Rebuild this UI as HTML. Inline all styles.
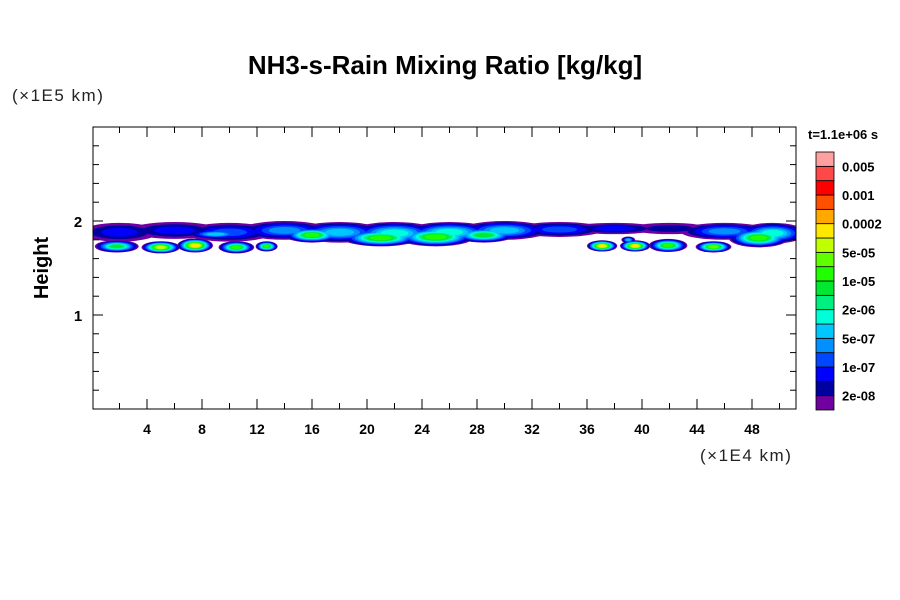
<!DOCTYPE html>
<html><head><meta charset="utf-8"><style>
body{margin:0;background:#fff;}
svg{display:block;font-family:"Liberation Sans",sans-serif;}
</style></head><body>
<svg id="chart" width="900" height="600" viewBox="0 0 900 600">
<rect width="900" height="600" fill="#fff"/>
<text x="445" y="74" font-size="26" font-weight="bold" text-anchor="middle">NH3-s-Rain Mixing Ratio [kg/kg]</text>
<text x="12" y="101" font-size="17" font-weight="300" fill="#222" letter-spacing="1.5">(×1E5 km)</text>
<text x="48" y="268" font-size="20" font-weight="bold" text-anchor="middle" transform="rotate(-90 48 268)">Height</text>
<text x="700" y="461" font-size="17" fill="#222" letter-spacing="1.5">(×1E4 km)</text>
<text x="808" y="139" font-size="13" font-weight="bold">t=1.1e+06 s</text>
<defs><clipPath id="pc"><rect x="93" y="127" width="703" height="282"/></clipPath></defs>
<g id="field" clip-path="url(#pc)"></g>
<g id="axes"></g>
<g id="cbar"></g>
</svg>
<script>
const xTicks=[4,8,12,16,20,24,28,32,36,40,44,48];
const yTicks=[1,2];
const cbLabels=["2e-08","1e-07","5e-07","2e-06","1e-05","5e-05","0.0002","0.001","0.005"];
const colors=["#7000a0","#0000a0","#0000ff","#0048ff","#0090ff","#00c8ff","#00ffd8","#00f080","#00e830","#20ff00","#60ff00","#c0ff00","#ffe800","#ffa800","#ff5000","#ff0000","#ff4848","#ffa0a0"];
const blobX=[2,6,10,14,18,22,26,30,34,38,42,46,49.5,9,16,21,25,28.5,48.5,1.8,5,7.5,10.5,12.7,37.1,39.5,41.9,45.2,39];
const blobY=[1.88,1.9,1.88,1.9,1.88,1.87,1.88,1.9,1.91,1.92,1.92,1.89,1.87,1.86,1.85,1.82,1.83,1.85,1.82,1.73,1.72,1.74,1.72,1.73,1.735,1.735,1.74,1.725,1.8];
const blobRX=[2.8,3.2,3.2,3.2,3.2,3.2,3.2,3.2,3.2,3.2,2.8,3.2,2.5,2,2,2.8,2.8,2.2,2.2,1.6,1.4,1.3,1.3,0.8,1.1,1.1,1.4,1.3,0.5];
const blobRY=[0.1,0.09,0.1,0.1,0.11,0.12,0.11,0.1,0.08,0.06,0.06,0.09,0.11,0.05,0.08,0.09,0.1,0.08,0.1,0.065,0.065,0.075,0.065,0.055,0.06,0.06,0.07,0.06,0.035];
const blobPeak=[2,2,3,4,5,6,6,5,3,2,1,4,6,5,9,9,9,8,9,8,11,12,9,9,12,12,9,10,5];
const X0=92,XS=13.75,Y0=409,YS=94;
const sx=v=>X0+v*XS, sy=v=>Y0-v*YS;
const NS="http://www.w3.org/2000/svg";
function mk(t,a,p){const e=document.createElementNS(NS,t);for(const k in a)e.setAttribute(k,a[k]);p.appendChild(e);return e;}
const field=document.getElementById('field');
const maxP=Math.max(...blobPeak);
for(let k=0;k<=maxP;k++){
  for(let i=0;i<blobX.length;i++){
    if(k>blobPeak[i])continue;
    const s=1-k/(blobPeak[i]+1)*0.8;
    const e=mk('ellipse',{cx:sx(blobX[i]),cy:sy(blobY[i]),rx:blobRX[i]*XS*s,ry:blobRY[i]*YS*s,fill:colors[k]},field);
    
    
  }
}
const axes=document.getElementById('axes');
const fr=mk('rect',{x:93,y:127,width:703,height:282,fill:'none',stroke:'#000','stroke-width':1},axes);


for(let v=2;v<=50;v+=2){
  const L=(v%4===0)?10:6;
  mk('line',{x1:sx(v),x2:sx(v),y1:409,y2:409-L,stroke:'#000'},axes);
  mk('line',{x1:sx(v),x2:sx(v),y1:127,y2:127+L,stroke:'#000'},axes);
}
xTicks.forEach(v=>{
  const t=mk('text',{x:sx(v),y:434,'font-size':14,'font-weight':'bold','text-anchor':'middle'},axes);
  t.textContent=v;
  
  
});
for(let j=1;j<=14;j++){
  const v=j*0.2;const L=(j%5===0)?10:6;
  mk('line',{x1:93,x2:93+L,y1:sy(v),y2:sy(v),stroke:'#000'},axes);
  mk('line',{x1:796,x2:796-L,y1:sy(v),y2:sy(v),stroke:'#000'},axes);
}
yTicks.forEach(v=>{
  const t=mk('text',{x:78,y:sy(v)+6,'font-size':15,'font-weight':'bold','text-anchor':'middle'},axes);
  t.textContent=v;
  
  
});
const cb=document.getElementById('cbar');
const cbTop=152,cbBot=410,h=(cbBot-cbTop)/colors.length;
colors.forEach((c,i)=>{
  const r=mk('rect',{x:816,y:cbBot-(i+1)*h,width:18,height:h,fill:c,stroke:'#000','stroke-width':0.8},cb);
  
  
});
cbLabels.forEach((l,i)=>{
  const t=mk('text',{x:842,y:cbBot-(2*i+1)*h+5,'font-size':13,'font-weight':'bold'},cb);
  t.textContent=l;
  
  
});
</script>
</body></html>
